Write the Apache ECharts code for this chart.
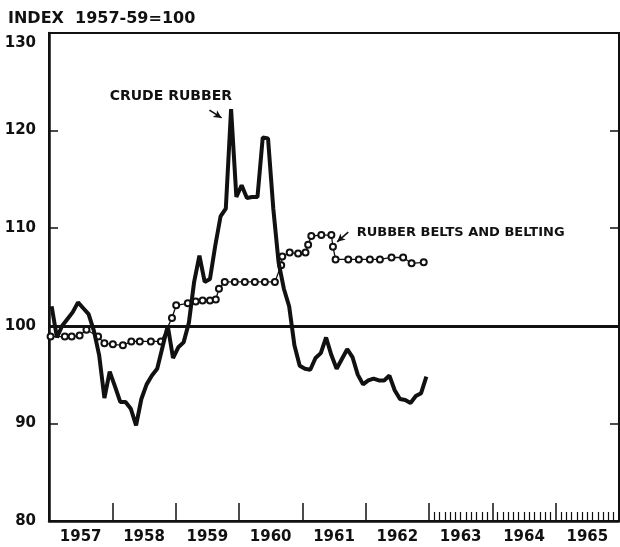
<!DOCTYPE html>
<html>
<head>
<meta charset="utf-8">
<script src="https://cdn.jsdelivr.net/npm/echarts@6/dist/echarts.min.js"></script>
<style>
html,body{margin:0;padding:0;background:#fff}
#chart{width:620px;height:547px}
</style>
</head>
<body>
<div id="chart"></div>
<script>
// years on the bottom axis, one band = 12 months
const years=['1957','1958','1959','1960','1961','1962','1963','1964','1965']
// crude rubber, monthly Jan 1957 - Dec 1962
const crudeRubber=[
  102.0,98.8,100.0,100.7,101.4,102.4,101.8,101.2,99.5,97.0,92.6,95.3,
  93.8,92.2,92.2,91.5,89.8,92.5,94.0,94.9,95.6,97.8,100.0,96.7,
  97.8,98.3,100.3,104.5,107.2,104.5,104.8,108.2,111.2,112.0,122.2,113.2,
  114.4,113.1,113.2,113.2,119.3,119.2,112.0,106.5,103.8,102.0,98.0,95.9,
  95.6,95.5,96.7,97.2,98.8,97.0,95.6,96.6,97.6,96.8,95.0,94.0,
  94.4,94.6,94.4,94.4,94.9,93.4,92.5,92.4,92.1,92.8,93.1,94.8
]
// rubber belts and belting (month position from Jan 1957, index value)
const beltMonths=[0.3,3.0,4.3,5.8,7.1,9.3,10.5,12.1,14.0,15.6,17.2,19.3,21.2,
  23.3,24.1,26.3,27.8,29.1,30.5,31.6,32.2,33.3,35.2,37.1,39.0,40.9,42.8,
  44.0,44.2,45.6,47.2,48.6,49.1,49.7,51.6,53.5,53.8,54.3,56.7,58.7,60.8,62.7,64.9,67.1,68.7,71.0]
const beltValues=[98.9,98.9,98.9,99.0,99.6,98.9,98.2,98.1,98.0,98.4,98.4,98.4,98.4,
  100.8,102.1,102.3,102.5,102.6,102.6,102.7,103.8,104.5,104.5,104.5,104.5,104.5,104.5,
  106.2,107.1,107.5,107.4,107.5,108.3,109.2,109.3,109.3,108.1,106.8,106.8,106.8,106.8,106.8,107.0,107.0,106.4,106.5]
const yTicks={min:80,max:130,step:10}

const font='DejaVu Sans'
const ink='#111'

let crudeData=crudeRubber.map((v,i)=>[i+0.5,v])
let beltData=beltValues.map((v,i)=>[beltMonths[i],v])

let option={
  backgroundColor:'#fff',
  animation:false,
  grid:[
    {left:49,right:1,top:33,bottom:26,show:true,borderColor:ink,borderWidth:2},
    {left:429,right:1,top:33,bottom:26}
  ],
  xAxis:[
    {
      type:'value',gridIndex:0,min:0,max:108,interval:12,
      axisLine:{lineStyle:{color:ink,width:2.5}},
      axisTick:{inside:true,length:18,lineStyle:{color:ink,width:1.5}},
      axisLabel:{show:false},
      splitLine:{show:false}
    },
    {
      type:'category',gridIndex:0,data:years,position:'bottom',boundaryGap:true,
      axisLine:{show:false},axisTick:{show:false},
      axisLabel:{margin:9,color:ink,fontFamily:font,fontSize:15,fontWeight:'bold'}
    },
    {
      type:'value',gridIndex:1,min:72,max:108,interval:12,
      axisLine:{show:false},
      axisTick:{inside:true,length:18,lineStyle:{color:ink,width:1.5}},
      minorTick:{show:true,splitNumber:12,length:9,lineStyle:{color:ink,width:1.2}},
      axisLabel:{show:false},
      splitLine:{show:false}
    }
  ],
  yAxis:[
    {
      type:'value',gridIndex:0,min:yTicks.min,max:yTicks.max,interval:yTicks.step,
      axisLine:{show:true,lineStyle:{color:ink,width:2.5}},
      axisTick:{inside:true,length:9,lineStyle:{color:ink,width:1.5}},
      axisLabel:{
        margin:13,color:ink,fontFamily:font,fontSize:15,fontWeight:'bold',
        formatter:v=>v===yTicks.max?'{t|'+v+'}':String(v),
        rich:{t:{padding:[20,0,0,0],color:ink,fontFamily:font,fontSize:15,fontWeight:'bold'}}
      },
      splitLine:{show:false}
    },
    {
      type:'value',gridIndex:0,position:'right',min:yTicks.min,max:yTicks.max,interval:yTicks.step,
      axisLine:{show:true,lineStyle:{color:ink,width:1.5}},
      axisTick:{inside:true,length:9,lineStyle:{color:ink,width:1.5}},
      axisLabel:{show:false},
      splitLine:{show:false}
    },
    {type:'value',gridIndex:1,min:yTicks.min,max:yTicks.max,show:false}
  ],
  series:[
    {
      name:'Rubber belts and belting',
      type:'line',xAxisIndex:0,yAxisIndex:0,
      data:beltData,
      symbol:'emptyCircle',symbolSize:6,showAllSymbol:true,
      lineStyle:{color:ink,width:1.3},
      itemStyle:{color:ink,borderColor:ink,borderWidth:1.4},
      z:2,
      markLine:{
        silent:true,symbol:['none','arrow'],symbolSize:[6,8],
        label:{show:false},
        lineStyle:{color:ink,width:1.6,type:'solid'},
        data:[
          [{coord:[56.7,109.6]},{coord:[54.6,108.6]}],
          [{coord:[30.4,122.1]},{coord:[32.7,121.3]}]
        ]
      }
    },
    {
      name:'Crude rubber',
      type:'line',xAxisIndex:0,yAxisIndex:0,
      data:crudeData,
      symbol:'none',
      lineStyle:{color:ink,width:4},
      z:3,
      markLine:{
        silent:true,symbol:['none','none'],
        label:{show:false},
        lineStyle:{color:ink,width:3,type:'solid'},
        data:[{yAxis:100}]
      }
    }
  ]
}

let chart=echarts.init(document.getElementById('chart'))
chart.setOption(option)

// labels placed in data space
let notes=[
  {text:'CRUDE RUBBER',at:[11.5,123.55],size:14},
  {text:'RUBBER BELTS AND BELTING',at:[58.3,109.5],size:13}
]
let graphics=[{
  type:'text',left:8,top:11,
  style:{text:'INDEX  1957-59=100',fill:ink,font:'bold 16px "DejaVu Sans"'}
}]
notes.forEach(n=>{
  let p=chart.convertToPixel({gridIndex:0},n.at)
  graphics.push({
    type:'text',x:p[0],y:p[1],
    style:{text:n.text,fill:ink,font:'bold '+n.size+'px "DejaVu Sans"',verticalAlign:'middle'}
  })
})
chart.setOption({graphic:graphics})
</script>
</body>
</html>
